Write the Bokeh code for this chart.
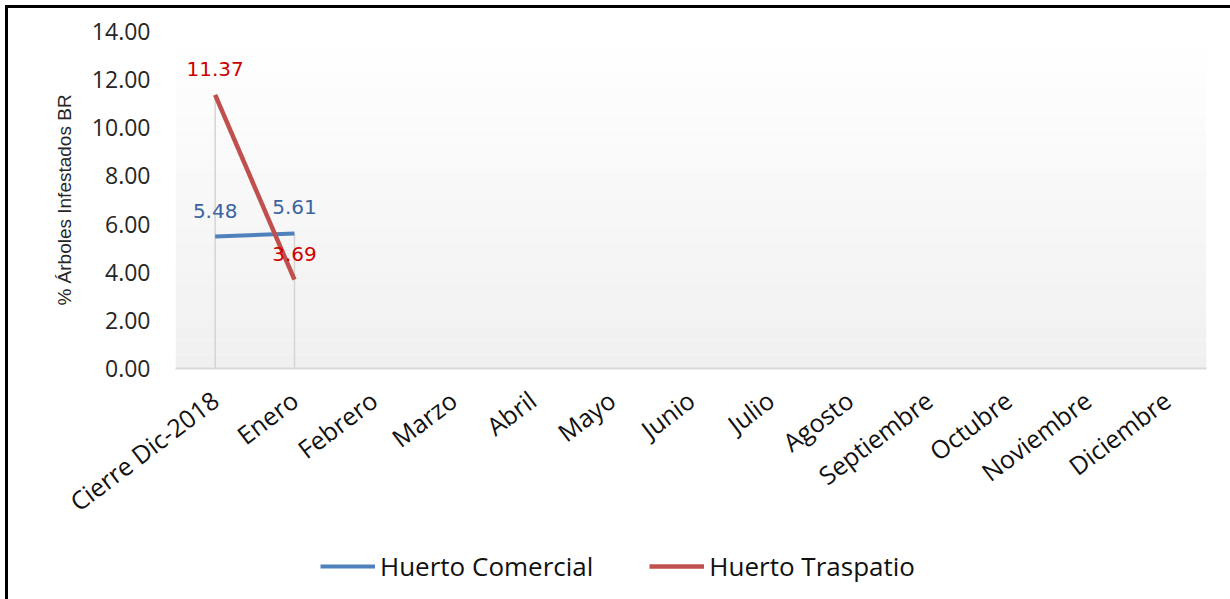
from bokeh.plotting import figure
from bokeh.layouts import column
from bokeh.models import (FactorRange, Legend, LegendItem, ColumnDataSource,
                          BoxAnnotation, LabelSet, NumeralTickFormatter, FixedTicker)
from bokeh.core.properties import value
from bokeh.embed import file_html
from bokeh.resources import INLINE

categories = ["Cierre Dic-2018", "Enero", "Febrero", "Marzo", "Abril", "Mayo",
              "Junio", "Julio", "Agosto", "Septiembre", "Octubre", "Noviembre",
              "Diciembre"]
data_months = ["Cierre Dic-2018", "Enero"]
comercial = [5.48, 5.61]
traspatio = [11.37, 3.69]
y_ticks = [0, 2, 4, 6, 8, 10, 12, 14]
series_names = ["Huerto Comercial", "Huerto Traspatio"]

BLUE = "#4f81bd"
RED = "#c0504d"

p = figure(width=1222, height=530, output_backend="svg", toolbar_location=None,
           x_range=FactorRange(*categories, range_padding=0),
           y_range=(0, 14),
           min_border_left=167, min_border_right=24, min_border_top=23,
           min_border_bottom=170)
p.outline_line_color = None
p.background_fill_color = "white"
p.border_fill_color = "white"

# gradient plot-area background
n_bands = 24
for i in range(n_bands):
    t = i / (n_bands - 1)
    c = int(round(255 - (255 - 240) * (1 - t)))
    p.add_layout(BoxAnnotation(bottom=14 * i / n_bands, top=14 * (i + 1) / n_bands,
                               fill_color="#%02x%02x%02x" % (c, c, c), fill_alpha=1,
                               line_color=None, level="underlay"))

p.xgrid.grid_line_color = None
p.ygrid.grid_line_color = None

# drop lines
drop_top = [max(a, b) for a, b in zip(comercial, traspatio)]
p.segment(x0=data_months, y0=[0] * len(data_months), x1=data_months, y1=drop_top,
          line_color="#d4d4d4", line_width=1.5)

p.line(data_months, comercial, line_color=BLUE, line_width=4)
p.line(data_months, traspatio, line_color=RED, line_width=4.5)

src_c = ColumnDataSource(dict(x=data_months, y=comercial,
                              t=["%.2f" % v for v in comercial]))
src_t = ColumnDataSource(dict(x=data_months, y=traspatio,
                              t=["%.2f" % v for v in traspatio]))
for src, col in ((src_c, "#3b64a0"), (src_t, "#d00000")):
    p.add_layout(LabelSet(x="x", y="y", text="t", source=src, y_offset=26,
                          text_align="center", text_baseline="middle",
                          text_font=value("DejaVu Sans"), text_font_size="20px",
                          text_color=col))

# y axis
p.yaxis.ticker = FixedTicker(ticks=y_ticks)
p.yaxis.formatter = NumeralTickFormatter(format="0.00")
p.yaxis.axis_line_color = None
p.yaxis.major_tick_line_color = None
p.yaxis.minor_tick_line_color = None
p.yaxis.major_label_standoff = 19
p.yaxis.major_label_text_font = "Open Sans"
p.yaxis.major_label_text_font_size = "23px"
p.yaxis.major_label_text_color = "#262626"
p.yaxis.axis_label = "% Árboles Infestados BR"
p.yaxis.axis_label_text_font = "Liberation Sans"
p.yaxis.axis_label_text_font_size = "19px"
p.yaxis.axis_label_text_font_style = "normal"
p.yaxis.axis_label_text_color = "#262626"
p.yaxis.axis_label_standoff = 14

# x axis
p.xaxis.axis_line_color = "#d9d9d9"
p.xaxis.axis_line_width = 2
p.xaxis.major_tick_line_color = None
p.xaxis.minor_tick_line_color = None
p.xaxis.major_label_orientation = 0.65
p.xaxis.major_label_standoff = 22
p.xaxis.major_label_text_font = "Open Sans"
p.xaxis.major_label_text_font_size = "25px"
p.xaxis.major_label_text_color = "#111111"

# legend strip (series drawn off-view; only their legend glyphs show)
lf = figure(width=1222, height=61, output_backend="svg", toolbar_location=None,
            x_axis_type=None, y_axis_type=None, min_border=0,
            x_range=FactorRange(*categories, range_padding=0), y_range=(100, 101))
lf.outline_line_color = None
lf.xgrid.grid_line_color = None
lf.ygrid.grid_line_color = None
d1 = lf.line(data_months, comercial, line_color=BLUE, line_width=4)
d2 = lf.line(data_months, traspatio, line_color=RED, line_width=4.5)
legend = Legend(items=[LegendItem(label=series_names[0], renderers=[d1]),
                       LegendItem(label=series_names[1], renderers=[d2])],
                orientation="horizontal", glyph_width=55, label_standoff=5,
                spacing=56, label_text_font="Open Sans", label_text_font_size="26px",
                label_text_color="#111111", border_line_color=None,
                background_fill_alpha=0, margin=0, padding=0,
                location=(145, 15))
lf.add_layout(legend, "center")

layout = column(p, lf, spacing=0,
                styles={"border-left": "3px solid black", "border-top": "3px solid black",
                        "margin-left": "5px", "margin-top": "5px"})

open("out.html", "w").write(file_html(layout, INLINE))
